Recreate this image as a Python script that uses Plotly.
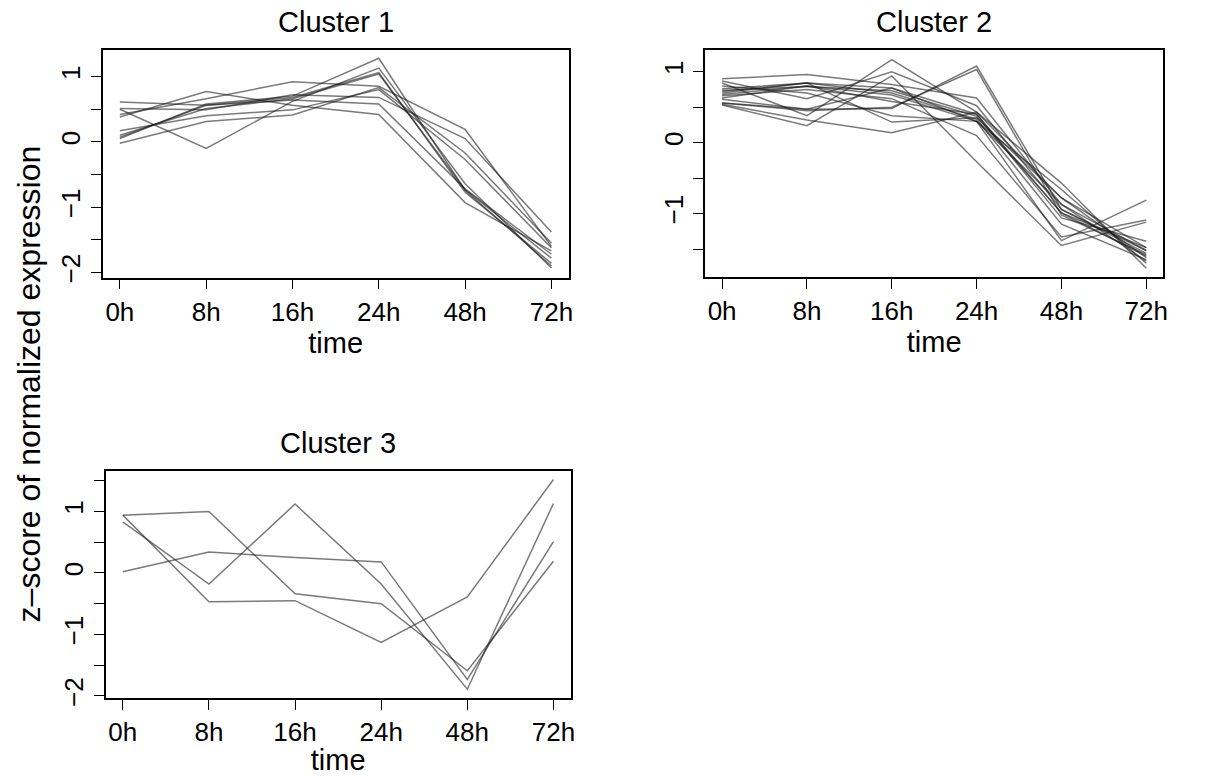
import plotly.graph_objects as go

W, H = 1228, 776

time_labels = ["0h", "8h", "16h", "24h", "48h", "72h"]
time_idx = [0, 1, 2, 3, 4, 5]

cluster1 = [
    [0.61, 0.56, 0.64, 0.58, -0.72, -1.72],
    [0.50, -0.10, 0.62, 1.13, -0.64, -1.93],
    [0.07, 0.56, 0.68, 1.06, -0.77, -1.86],
    [0.10, 0.51, 0.66, 1.04, -0.73, -1.78],
    [-0.02, 0.31, 0.41, 0.83, -0.17, -1.55],
    [0.17, 0.40, 0.49, 0.80, -0.27, -1.62],
    [0.38, 0.77, 0.56, 0.42, -0.93, -1.67],
    [0.42, 0.66, 0.92, 0.85, 0.19, -1.60],
    [0.51, 0.49, 0.72, 0.68, 0.05, -1.38],
    [0.05, 0.58, 0.70, 1.28, -0.74, -1.90],
]

cluster2 = [
    [0.90, 0.96, 0.82, 0.63, -0.87, -1.52],
    [0.87, 0.62, 1.00, 0.52, -0.94, -1.56],
    [0.84, 0.38, 1.17, 0.43, -0.78, -1.48],
    [0.76, 0.84, 0.77, 0.40, -1.06, -1.39],
    [0.74, 0.79, 0.73, 0.37, -0.99, -1.60],
    [0.72, 0.84, 0.70, 0.33, -1.15, -1.65],
    [0.68, 0.80, 0.67, 0.30, -0.66, -1.70],
    [0.66, 0.75, 0.62, 0.10, -1.33, -1.09],
    [0.61, 0.47, 0.48, 1.08, -0.94, -1.52],
    [0.56, 0.45, 0.50, 1.03, -1.02, -1.58],
    [0.54, 0.32, 0.14, 0.43, -0.57, -1.77],
    [0.53, 0.24, 0.94, -0.27, -1.45, -1.12],
    [0.80, 0.70, 0.38, 0.30, -1.38, -0.81],
    [0.70, 0.84, 0.29, 0.35, -0.78, -1.62],
    [0.63, 0.80, 0.58, 0.40, -0.99, -1.48],
    [0.56, 0.47, 0.77, 0.30, -0.87, -1.67],
]

cluster3 = [
    [0.94, 1.00, -0.34, -0.50, -1.59, 0.19],
    [0.83, -0.18, 1.12, -0.18, -1.89, 1.13],
    [0.94, -0.47, -0.45, -1.13, -0.39, 1.52],
    [0.02, 0.34, 0.25, 0.18, -1.73, 0.51],
]

titles = ["Cluster 1", "Cluster 2", "Cluster 3"]
x_title = "time"
y_title = "z\u2013score of normalized expression"

FONT = "Liberation Sans, Arial, Helvetica, sans-serif"
LINE_COLOR = "rgba(25,25,25,0.58)"

# panel boxes in pixels: (left, right, top, bottom)
boxes = [(103, 571, 51, 281), (708, 1168, 51, 280), (106, 573, 477, 706)]
yranges = [[-2.08, 1.40], [-1.89, 1.30], [-2.03, 1.65]]
yticks = [
    [-2, -1.5, -1, -0.5, 0, 0.5, 1],
    [-1.5, -1, -0.5, 0, 0.5, 1],
    [-2, -1.5, -1, -0.5, 0, 0.5, 1, 1.5],
]


def fmt(v):
    if not float(v).is_integer():
        return ""
    n = int(v)
    return ("\u2212" + str(-n)) if n < 0 else str(n)


fig = go.Figure()
clusters = [cluster1, cluster2, cluster3]
for i, cl in enumerate(clusters):
    xa = "x" if i == 0 else f"x{i+1}"
    ya = "y" if i == 0 else f"y{i+1}"
    for series in cl:
        fig.add_trace(go.Scatter(x=time_idx, y=series, mode="lines",
                                 line=dict(color=LINE_COLOR, width=1.5),
                                 xaxis=xa, yaxis=ya, showlegend=False,
                                 hoverinfo="skip"))

layout = dict(width=W, height=H, margin=dict(l=0, r=0, t=0, b=0),
              paper_bgcolor="white", plot_bgcolor="white",
              font=dict(family=FONT, color="black"), showlegend=False)

annotations = []
for i, (l, r, t, b) in enumerate(boxes):
    sfx = "" if i == 0 else str(i + 1)
    layout["xaxis" + sfx] = dict(
        domain=[l / W, r / W], range=[-0.2, 5.2], anchor="y" + sfx,
        tickvals=time_idx, ticktext=time_labels, ticks="outside", ticklen=10,
        tickwidth=1.3, tickcolor="black", showline=True, mirror=True,
        linecolor="black", linewidth=1.5, showgrid=False, zeroline=False,
        tickfont=dict(size=26, family=FONT, color="black"),
        title=dict(text=x_title, font=dict(size=29, family=FONT, color="black"),
                   standoff=0),
    )
    ticktext = [fmt(v) for v in yticks[i]]
    layout["yaxis" + sfx] = dict(
        domain=[1 - b / H, 1 - t / H], range=yranges[i], anchor="x" + sfx,
        tickvals=yticks[i], ticktext=ticktext, ticks="outside", ticklen=10,
        tickwidth=1.3, tickcolor="black", showline=True, mirror=True,
        linecolor="black", linewidth=1.5, showgrid=False, zeroline=False,
        tickangle=-90, tickfont=dict(size=26, family=FONT, color="black"),
    )
    annotations.append(dict(text=titles[i], x=(l + r) / 2 / W,
                            y=1 - (t - 29) / H, xref="paper", yref="paper",
                            showarrow=False, xanchor="center", yanchor="middle",
                            font=dict(size=29, family=FONT, color="black")))

annotations.append(dict(text=y_title, x=29 / W, y=1 - 388 / H, xref="paper",
                        yref="paper", showarrow=False, textangle=-90,
                        xanchor="center", yanchor="middle",
                        font=dict(size=32, family=FONT, color="black")))
layout["annotations"] = annotations
fig.update_layout(**layout)
fig.write_html("out.html")
